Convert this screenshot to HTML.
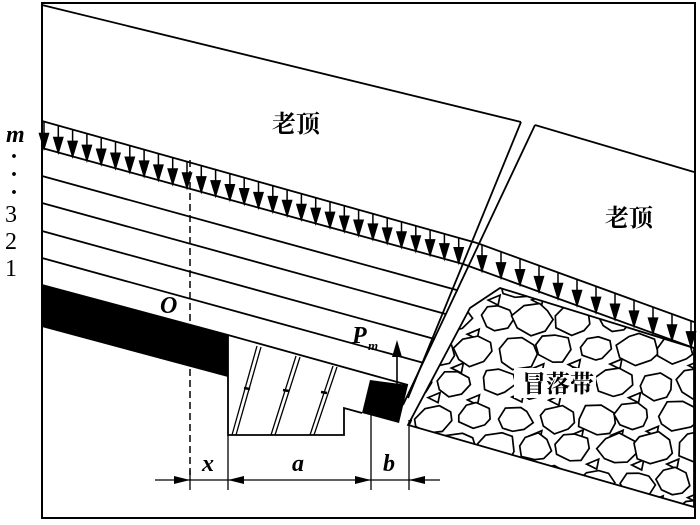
<!DOCTYPE html>
<html><head><meta charset="utf-8"><style>
html,body{margin:0;padding:0;background:#fff;}
svg{display:block;}
text{font-family:"Liberation Serif","Noto Serif CJK SC",serif;}
</style></head><body>
<svg id="s" width="700" height="525" viewBox="0 0 700 525" xmlns="http://www.w3.org/2000/svg">
<defs>
<clipPath id="gob"><polygon points="500,288 694,348 694,507 408,425 470,308"/></clipPath>
</defs>
<g id="rocks" clip-path="url(#gob)" fill="#fff" stroke="#000" stroke-width="1.7"></g>
<g fill="none" stroke="#000" stroke-width="1.8">
<rect x="42" y="3" width="653" height="515" stroke-width="2"/>
<line x1="42" y1="5" x2="521" y2="122"/>
<line x1="521" y1="122" x2="408" y2="398"/>
<line x1="42" y1="121" x2="477" y2="243"/>
<line x1="42" y1="148" x2="463" y2="264"/>
<line x1="535" y1="125" x2="694" y2="172"/>
<line x1="535" y1="125" x2="403" y2="405"/>
<line x1="477" y1="243" x2="694" y2="322"/>
<line x1="463" y1="264" x2="694" y2="348"/>
<polygon points="500,288 694,348 694,507 408,425 470,308"/>
<polyline points="228,335 228,435 344,435 344,408 362,413"/>
<line x1="228" y1="335" x2="408" y2="385"/>
<line x1="190" y1="160" x2="190" y2="480" stroke-dasharray="7,4" stroke-width="1.5"/>
<line x1="155" y1="480" x2="440" y2="480" stroke-width="1.3"/>
<line x1="190" y1="470" x2="190" y2="490" stroke-width="1.3"/>
<line x1="228" y1="435" x2="228" y2="490" stroke-width="1.3"/>
<line x1="371" y1="410" x2="371" y2="490" stroke-width="1.3"/>
<line x1="409" y1="420" x2="409" y2="490" stroke-width="1.3"/>
</g>
<g id="lay" fill="none" stroke="#000" stroke-width="1.8"></g>
<g id="arr" stroke="#000" stroke-width="1.5"></g>
<polygon points="42,285 228,335 228,377 42,327" fill="#000"/>
<polygon points="370,380 408,385 399,423 362,413" fill="#000"/>
<g stroke="#000" stroke-width="1.3" fill="none">
<path d="M257,346 L232,435 M261,347 L236,435 M296,356 L271,435 M300,357 L275,435 M333,366 L310,435 M337,367 L314,435"/>
<path d="M244,388 l6,1 M283,390 l6,1 M321,392 l6,1" stroke-width="2.5"/>
</g>
<line x1="397" y1="392" x2="397" y2="352" stroke="#000" stroke-width="1.6"/>
<path d="M392,357 L397,340 L402,357 Z" fill="#000"/>
<g fill="#000">
<path d="M190,480 l-16,-4 l0,8Z M228,480 l16,-4 l0,8Z M371,480 l-16,-4 l0,8Z M409,480 l16,-4 l0,8Z"/>
</g>
<rect x="514" y="368" width="82" height="30" fill="#fff"/>
<g font-size="24" fill="#000" font-family="Noto Serif CJK SC,serif" font-weight="bold">
<text x="272" y="132">老顶</text>
<text x="605" y="226">老顶</text>
<text x="522" y="392">冒落带</text>
</g>
<g font-size="24" fill="#000">
<text x="6" y="142" font-style="italic" font-weight="bold">m</text>
<text x="10" y="164" font-weight="bold">·</text>
<text x="10" y="182" font-weight="bold">·</text>
<text x="10" y="200" font-weight="bold">·</text>
<text x="5" y="222">3</text>
<text x="5" y="249">2</text>
<text x="5" y="276">1</text>
<text x="160" y="313" font-style="italic" font-weight="bold">O</text>
<text x="352" y="343" font-style="italic" font-weight="bold">P</text>
<text x="368" y="350" font-size="13" font-style="italic" font-weight="bold">m</text>
<text x="202" y="471" font-style="italic" font-weight="bold">x</text>
<text x="292" y="471" font-style="italic" font-weight="bold">a</text>
<text x="383" y="471" font-style="italic" font-weight="bold">b</text>
</g>
</svg>
<script>
var NS="http://www.w3.org/2000/svg";
function el(p,t,a){var e=document.createElementNS(NS,t);for(var k in a)e.setAttribute(k,a[k]);p.appendChild(e);return e;}
var lay=document.getElementById("lay");
function edgeX(y){return 535+(403-535)*(y-125)/(405-125);}
[176,203,231,258].forEach(function(y0){
  var s=0.275, x=42, y;
  for(var i=0;i<800;i++){x=42+i;y=y0+s*(x-42);if(x>=edgeX(y))break;}
  el(lay,"line",{x1:42,y1:y0,x2:x,y2:y});
});
el(lay,"line",{x1:42,y1:285,x2:228,y2:335});
var arr=document.getElementById("arr");
function arrow(x,yt,yb){el(arr,"line",{x1:x,y1:yt,x2:x,y2:yb-12});el(arr,"path",{d:"M"+(x-4.5)+","+(yb-15)+" L"+x+","+yb+" L"+(x+4.5)+","+(yb-15)+"Z",fill:"#000"});}
for(var x=44;x<=465;x+=14.3){arrow(x,121+0.2805*(x-42),148+0.2755*(x-42));}
for(var x=482;x<=692;x+=19){arrow(x,243+0.364*(x-477),264+0.3636*(x-463));}
var r=document.getElementById("rocks");var seed=7;function rnd(){seed=(seed*9301+49297)%233280;return seed/233280;}
for(var gy=285;gy<530;gy+=33){for(var gx=395;gx<720;gx+=40){
 var cx=gx+((Math.round((gy-285)/33))%2)*20+(rnd()-0.5)*6,cy=gy+(rnd()-0.5)*6,rad=17+rnd()*5,n=8,pts=[];
 for(var k=0;k<n;k++){var a=k/n*6.283+rnd()*0.35;var rr=rad*(0.85+rnd()*0.2);pts.push((cx+rr*Math.cos(a)).toFixed(1)+","+(cy+rr*0.78*Math.sin(a)).toFixed(1));}
 el(r,"polygon",{points:pts.join(" ")});
 if(rnd()>0.35){var tx=cx+20,ty=cy+16;el(r,"polygon",{points:(tx-6)+","+(ty)+" "+(tx+6)+","+(ty-5)+" "+(tx+4)+","+(ty+5)});}
}}
</script>
</body></html>
